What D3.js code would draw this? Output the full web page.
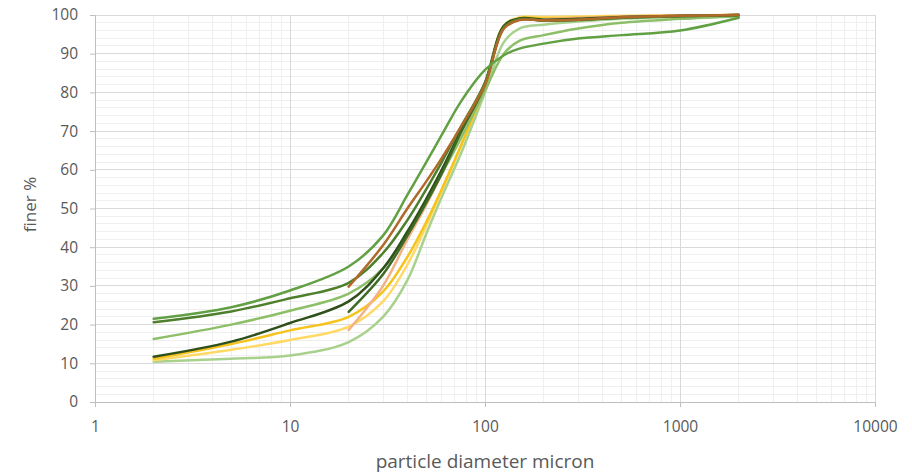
<!DOCTYPE html>
<html lang="en">
<head>
  <meta charset="UTF-8">
  <title>finer %</title>
  <script src="https://cdn.jsdelivr.net/npm/d3@7"></script>
  <style>
    body { margin: 0; background: #fff; }
    text { font-family: "Open Sans", "Noto Sans", sans-serif; fill: #595959; }
  </style>
</head>
<body>

<script>
  // sieve sizes (micron)
  var sizes = [2, 5, 10, 20, 30, 40, 50, 60, 75, 100, 125, 150, 200, 300, 500, 1000, 2000];

  // finer % per sample (null = not measured)
  var sA = [21.5, 24.5, 28.8, 35, 43, 53.5, 62, 69, 77.5, 85.8, 89.6, 91.3, 92.6, 93.9, 94.8, 96, 99.3];
  var sB = [20.6, 23.4, 26.8, 30.8, 38.5, 47, 55, 62, 71, 82.5, 96.8, 98.9, 98.5, 98.7, 99.3, 99.7, 100];
  var sC = [16.3, 20, 23.6, 28, 34.5, 44, 52, 59, 68, 80.5, 90, 93.3, 94.8, 96.5, 98, 99, 99.7];
  var sD = [11.7, 15.6, 20.4, 26, 34.5, 44, 52.5, 60, 70, 82.5, 97.2, 99.1, 98.8, 99, 99.5, 99.8, 100];
  var sE = [11.2, 15, 18.5, 22, 28.5, 37.5, 46.5, 55, 66, 81.5, 97, 99.2, 99.1, 99.3, 99.6, 99.8, 100];
  var sF = [10.8, 13.5, 16, 19.5, 26, 35.5, 45.5, 54.5, 66, 82, 97.3, 99.4, 99.5, 99.6, 99.8, 99.9, 100];
  var sG = [10.4, 11.2, 12, 15.5, 22, 31.5, 43.5, 53, 64, 80, 93, 96.5, 97.5, 98.3, 99, 99.5, 100];
  var sH = [null, null, null, 29.8, 40.5, 50, 57, 63, 71, 82, 96.5, 98.7, 98.6, 98.8, 99.4, 99.8, 100];
  var sI = [null, null, null, 23.3, 33, 43, 51.5, 59, 69.5, 82, 96.8, 98.9, 98.6, 98.8, 99.3, 99.7, 100];
  var sJ = [null, null, null, 18.6, 30, 42, 51, 59, 69.5, 82, 96.5, 98.7, 98.9, 99.2, 99.6, 99.9, 100];

  var series = [
    {values: sG, color: '#a9d18e'},
    {values: sF, color: '#ffd966'},
    {values: sE, color: '#f5c31c'},
    {values: sJ, color: '#f4b183'},
    {values: sC, color: '#8dbf69'},
    {values: sD, color: '#2f4f1b'},
    {values: sI, color: '#3d6b25'},
    {values: sB, color: '#4e7f2c'},
    {values: sH, color: '#b0692a'},
    {values: sA, color: '#62a044'}
  ];

  var yTicks = [0, 10, 20, 30, 40, 50, 60, 70, 80, 90, 100];
  var xTicks = [1, 10, 100, 1000, 10000];

  var svg = d3.select('body').append('svg').attr('width', 912).attr('height', 473);

  var x = d3.scaleLog().domain([1, 10000]).range([95, 875]);
  var y = d3.scaleLinear().domain([0, 100]).range([402, 15]);

  // minor grid
  var minorX = [];
  for (var dec = 1; dec < 10000; dec *= 10) {
    for (var k = 2; k <= 9; k++) minorX.push(dec * k);
  }
  var minorY = d3.range(0, 101, 2).filter(function(d){ return d % 10 !== 0; });

  svg.append('g').selectAll('line').data(minorX).enter().append('line')
    .attr('x1', function(d){ return x(d); }).attr('x2', function(d){ return x(d); })
    .attr('y1', y(0)).attr('y2', y(100))
    .attr('stroke', '#efefef').attr('stroke-width', 1).attr('shape-rendering', 'crispEdges');
  svg.append('g').selectAll('line').data(minorY).enter().append('line')
    .attr('x1', x(1)).attr('x2', x(10000))
    .attr('y1', function(d){ return y(d); }).attr('y2', function(d){ return y(d); })
    .attr('stroke', '#efefef').attr('stroke-width', 1).attr('shape-rendering', 'crispEdges');

  // major grid
  svg.append('g').selectAll('line').data(xTicks).enter().append('line')
    .attr('x1', function(d){ return x(d); }).attr('x2', function(d){ return x(d); })
    .attr('y1', y(0)).attr('y2', y(100))
    .attr('stroke', '#d9d9d9').attr('stroke-width', 1).attr('shape-rendering', 'crispEdges');
  svg.append('g').selectAll('line').data(yTicks).enter().append('line')
    .attr('x1', x(1)).attr('x2', x(10000))
    .attr('y1', function(d){ return y(d); }).attr('y2', function(d){ return y(d); })
    .attr('stroke', '#d9d9d9').attr('stroke-width', 1).attr('shape-rendering', 'crispEdges');

  // axes
  var yAxis = d3.axisLeft(y).tickValues(yTicks).tickSize(5).tickPadding(12);
  var gy = svg.append('g').attr('transform', 'translate(' + x(1) + ',0)').call(yAxis);
  var xAxis = d3.axisBottom(x).tickValues(xTicks).tickFormat(d3.format('d')).tickSize(5).tickPadding(14);
  var gx = svg.append('g').attr('transform', 'translate(0,' + y(0) + ')').call(xAxis);
  [gx, gy].forEach(function(g){
    g.select('.domain').attr('stroke', '#bfbfbf');
    g.selectAll('.tick line').attr('stroke', '#bfbfbf');
    g.selectAll('.tick text').style('font-size', '15.5px').attr('fill', '#595959');
  });

  // lines
  var line = d3.line()
    .defined(function(d){ return d[1] !== null; })
    .x(function(d){ return x(d[0]); })
    .y(function(d){ return y(d[1]); })
    .curve(d3.curveCatmullRom.alpha(0.5));

  svg.append('g').selectAll('path').data(series).enter().append('path')
    .attr('d', function(s){ return line(sizes.map(function(v, i){ return [v, s.values[i]]; })); })
    .attr('fill', 'none')
    .attr('stroke', function(s){ return s.color; })
    .attr('stroke-width', 2.5)
    .attr('stroke-linecap', 'round');

  // titles
  svg.append('text').attr('x', (x(1) + x(10000)) / 2).attr('y', 468)
    .attr('text-anchor', 'middle').style('font-size', '19px').text('particle diameter micron');
  svg.append('text').attr('transform', 'translate(36,' + (y(50) - 4) + ') rotate(-90)')
    .attr('text-anchor', 'middle').style('font-size', '17px').text('finer %');
</script>

</body>
</html>
